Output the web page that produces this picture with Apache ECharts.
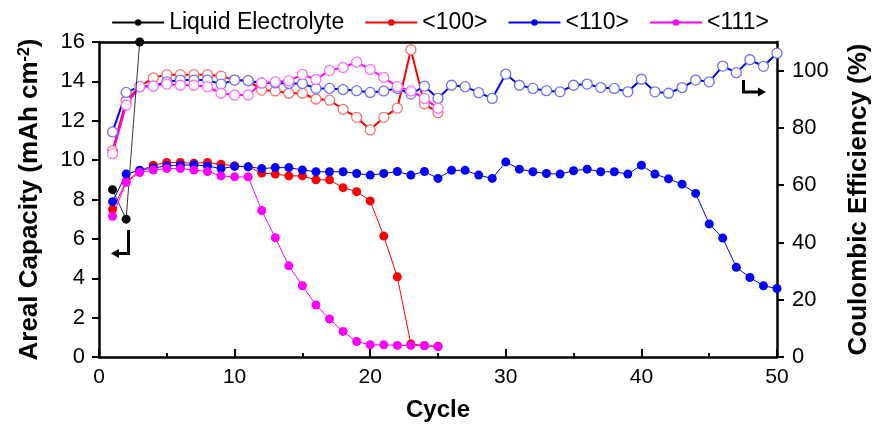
<!DOCTYPE html>
<html>
<head>
<meta charset="utf-8">
<script src="https://cdn.jsdelivr.net/npm/echarts@6/dist/echarts.min.js"></script>
<style>html,body{margin:0;padding:0;background:#fff;}#c{width:880px;height:427px;}</style>
</head>
<body>
<div id="c"></div>
<script>
// ---- data ----
const cyclesLiquid = [1, 2, 3];
const capLiquid = [8.5, 7.0, 16.0];

const cycles25 = [1,2,3,4,5,6,7,8,9,10,11,12,13,14,15,16,17,18,19,20,21,22,23,24,25];
const cycles50 = [1,2,3,4,5,6,7,8,9,10,11,12,13,14,15,16,17,18,19,20,21,22,23,24,25,
                  26,27,28,29,30,31,32,33,34,35,36,37,38,39,40,41,42,43,44,45,46,47,48,49,50];

const cap100 = [7.5, 8.9, 9.46, 9.74, 9.88, 9.88, 9.84, 9.88, 9.79, 9.71, 9.66, 9.34, 9.29, 9.2, 9.2,
                9.0, 9.0, 8.6, 8.4, 7.93, 6.14, 4.07, 0.66, 0.58, 0.55];
const cap110 = [7.89, 9.29, 9.49, 9.6, 9.71, 9.74, 9.76, 9.7, 9.57, 9.68, 9.66, 9.57, 9.62, 9.62, 9.5,
                9.41, 9.41, 9.41, 9.32, 9.24, 9.32, 9.42, 9.24, 9.42, 9.07, 9.48, 9.48, 9.24, 9.07, 9.91,
                9.54, 9.41, 9.32, 9.29, 9.46, 9.54, 9.41, 9.41, 9.29, 9.74, 9.29, 9.05, 8.78, 8.31, 6.76,
                6.04, 4.56, 4.04, 3.62, 3.48];
const cap111 = [7.15, 8.87, 9.37, 9.5, 9.57, 9.57, 9.5, 9.42, 9.2, 9.15, 9.15, 7.44, 6.06, 4.63, 3.62,
                2.64, 1.93, 1.3, 0.79, 0.62, 0.62, 0.59, 0.59, 0.57, 0.52];

const ce100 = [72, 89.5, 94.4, 97.5, 98.6, 98.6, 98.6, 98.6, 98.1, 96.7, 96.5, 93.2, 92.9, 92.1, 92.1,
               90.1, 89.7, 86.5, 83.7, 79.3, 83.7, 86.9, 107.3, 88.4, 85.3];
const ce110 = [78.6, 92.4, 94.4, 94.6, 96.1, 96.7, 96.7, 96.7, 95.3, 96.7, 96.5, 95.7, 95.7, 95.5, 95.5,
               93.8, 93.8, 93.4, 93.0, 92.4, 92.9, 93.8, 91.8, 94.6, 90.3, 94.9, 94.4, 92.3, 90.3, 98.8,
               94.9, 93.8, 93.0, 92.6, 94.9, 95.3, 94.1, 93.8, 92.6, 97.0, 92.6, 92.1, 94.1, 96.7, 96.1,
               101.6, 99.3, 103.8, 101.5, 106.1];
const ce111 = [71, 88, 94.4, 94.6, 95.3, 94.9, 94.9, 94.4, 92.1, 91.5, 91.5, 95.7, 96.1, 96.4, 98.7,
               96.9, 100.1, 101.1, 103.0, 100.4, 97.6, 94.4, 92.9, 90.3, 86.9];

const legendNames = ['Liquid Electrolyte', '<100>', '<110>', '<111>'];
const xTicks = [0, 10, 20, 30, 40, 50];
const leftTicks = [0, 2, 4, 6, 8, 10, 12, 14, 16];
const rightTicks = [0, 20, 40, 60, 80, 100];

// ---- chart ----
const FONT = 'Liberation Sans';
const pairs = (xs, ys) => xs.map((x, i) => [x, ys[i]]);

function capSeries(name, xs, ys, color, lw) {
  return {
    name: name, type: 'line', xAxisIndex: 0, yAxisIndex: 0,
    data: pairs(xs, ys), symbol: 'circle', symbolSize: 9,
    itemStyle: { color: color },
    lineStyle: { color: color, width: lw },
    z: 4
  };
}
function ceSeries(name, xs, ys, color, light) {
  return {
    name: name, type: 'line', xAxisIndex: 0, yAxisIndex: 1,
    data: pairs(xs, ys), symbol: 'circle', symbolSize: 10,
    itemStyle: { color: '#fff', borderColor: light, borderWidth: 1.3 },
    lineStyle: { color: color, width: 2 },
    z: 3
  };
}

const axisLineStyle = { color: '#000', width: 2.5 };
const chart = echarts.init(document.getElementById('c'), null, { renderer: 'canvas' });
chart.setOption({
  animation: false,
  backgroundColor: '#fff',
  textStyle: { fontFamily: FONT },
  grid: { left: 99, right: 97, top: 42, bottom: 68, containLabel: false },
  legend: {
    data: legendNames, top: 6, left: 'center',
    itemWidth: 52, itemHeight: 8, itemGap: 20,
    textStyle: { fontSize: 23, color: '#000', fontFamily: FONT }
  },
  xAxis: [{
    type: 'value', min: 0, max: 50, interval: 10,
    axisLine: { show: true, onZero: false, lineStyle: axisLineStyle },
    axisTick: { show: true, inside: true, length: 8, lineStyle: { color: '#000', width: 2 }, customValues: xTicks },
    minorTick: { show: true, splitNumber: 2, length: 4, lineStyle: { color: '#000', width: 2 } },
    axisLabel: { fontSize: 21, color: '#000', margin: 10, fontFamily: FONT, customValues: xTicks },
    splitLine: { show: false },
    name: 'Cycle', nameLocation: 'middle', nameGap: 41,
    nameTextStyle: { fontSize: 24, fontWeight: 'bold', color: '#000', fontFamily: FONT }
  }, {
    type: 'value', position: 'top', min: 0, max: 50,
    axisLine: { show: true, onZero: false, lineStyle: axisLineStyle },
    axisTick: { show: false }, axisLabel: { show: false }, splitLine: { show: false }
  }],
  yAxis: [{
    type: 'value', position: 'left', min: 0, max: 16, interval: 2,
    axisLine: { show: true, onZero: false, lineStyle: axisLineStyle },
    axisTick: { show: true, inside: false, length: 7, lineStyle: { color: '#000', width: 2 }, customValues: leftTicks },
    axisLabel: { fontSize: 22, color: '#000', margin: 14, fontFamily: FONT, customValues: leftTicks },
    splitLine: { show: false },
    name: 'Areal Capacity (mAh cm{sup|-2})', nameLocation: 'middle', nameGap: 56, nameRotate: 90,
    nameTextStyle: {
      fontSize: 26, fontWeight: 'bold', color: '#000', fontFamily: FONT,
      rich: { sup: { fontSize: 16, fontWeight: 'bold', color: '#000', verticalAlign: 'top', fontFamily: FONT } }
    }
  }, {
    type: 'value', position: 'right', min: 0, max: 110, interval: 20,
    axisLine: { show: true, onZero: false, lineStyle: axisLineStyle },
    axisTick: { show: true, inside: false, length: 7, lineStyle: { color: '#000', width: 2 }, customValues: rightTicks },
    axisLabel: { fontSize: 22, color: '#000', margin: 15, fontFamily: FONT, customValues: rightTicks },
    splitLine: { show: false },
    name: 'Coulombic Efficiency (%)', nameLocation: 'middle', nameGap: 69, nameRotate: 90,
    nameTextStyle: { fontSize: 26, fontWeight: 'bold', color: '#000', fontFamily: FONT }
  }],
  series: [
    ceSeries('<100> CE', cycles25, ce100, '#ff0000', '#ff7070'),
    ceSeries('<110> CE', cycles50, ce110, '#0000ff', '#7070ff'),
    ceSeries('<111> CE', cycles25, ce111, '#ff00ff', '#ff70ff'),
    capSeries('Liquid Electrolyte', cyclesLiquid, capLiquid, '#000000', 0.8),
    capSeries('<100>', cycles25, cap100, '#ff0000', 1),
    capSeries('<110>', cycles50, cap110, '#0000ff', 1),
    capSeries('<111>', cycles25, cap111, '#ff00ff', 1)
  ],
  graphic: [
    { type: 'polyline', shape: { points: [[128.5, 230], [128.5, 253.5], [118, 253.5]] },
      style: { stroke: '#000', lineWidth: 3, fill: null }, z: 10 },
    { type: 'polygon', shape: { points: [[111, 253.5], [119, 249], [119, 258]] },
      style: { fill: '#000' }, z: 10 },
    { type: 'polyline', shape: { points: [[743.5, 80], [743.5, 92], [758, 92]] },
      style: { stroke: '#000', lineWidth: 3, fill: null }, z: 10 },
    { type: 'polygon', shape: { points: [[766, 92], [758, 87.5], [758, 96.5]] },
      style: { fill: '#000' }, z: 10 }
  ]
});
</script>
</body>
</html>
